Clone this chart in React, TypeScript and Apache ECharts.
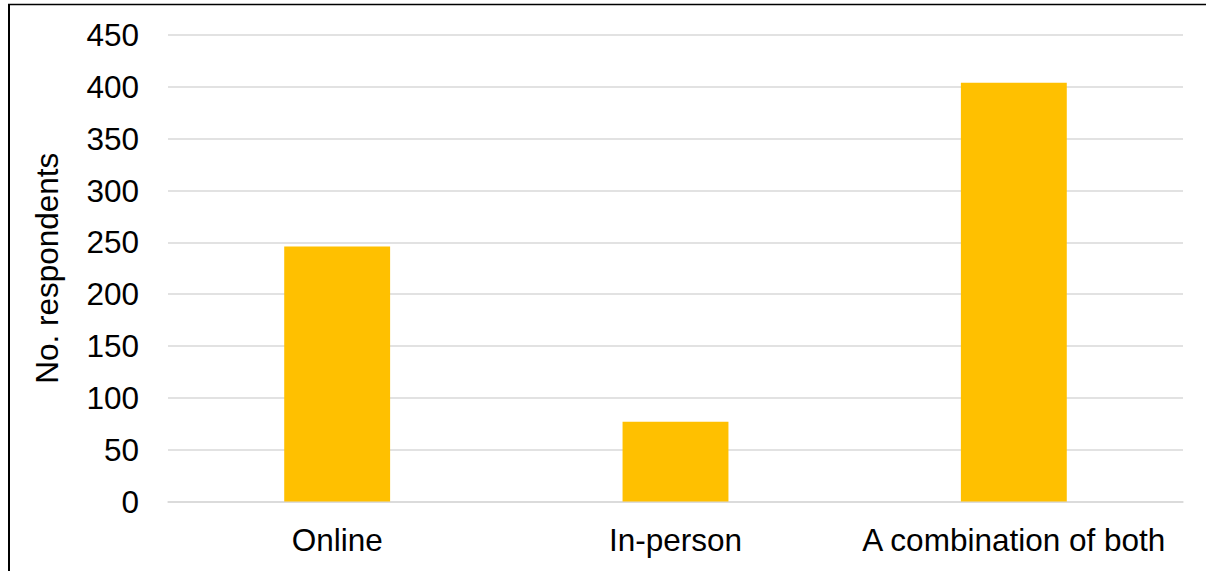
import React, { useEffect, useRef } from "react";
import * as echarts from "echarts";

const categories = ["Online", "In-person", "A combination of both"];
const respondents = [246, 77, 404];
const yTicks = { min: 0, max: 450, interval: 50 };
const yAxisTitle = "No. respondents";

const FONT = "'Liberation Sans', Arial, sans-serif";

export default function App() {
  const ref = useRef<HTMLDivElement>(null);
  useEffect(() => {
    if (!ref.current) return;
    const chart = echarts.init(ref.current, undefined, { renderer: "svg" });
    chart.setOption({
      animation: false,
      backgroundColor: "#ffffff",
      grid: { left: 168, right: 23, top: 35, bottom: 69.5, containLabel: false },
      xAxis: {
        type: "category",
        data: categories,
        axisLine: { show: true, lineStyle: { color: "#d9d9d9", width: 1.5 } },
        axisTick: { show: false },
        axisLabel: { color: "#000", fontSize: 31.5, fontFamily: FONT, margin: 22, interval: 0 },
      },
      yAxis: {
        type: "value",
        min: yTicks.min,
        max: yTicks.max,
        interval: yTicks.interval,
        name: yAxisTitle,
        nameLocation: "middle",
        nameGap: 105,
        nameRotate: 90,
        nameTextStyle: { color: "#000", fontSize: 31.5, fontFamily: FONT },
        axisLine: { show: false },
        axisTick: { show: false },
        splitLine: { show: true, lineStyle: { color: "#d9d9d9", width: 1.5 } },
        axisLabel: { color: "#000", fontSize: 31.5, fontFamily: FONT, margin: 29 },
      },
      series: [
        {
          type: "bar",
          data: respondents,
          barWidth: "31.3%",
          itemStyle: { color: "#FFC000" },
        },
      ],
      graphic: [
        {
          type: "line",
          shape: { x1: 9, y1: 4, x2: 9, y2: 600 },
          style: { stroke: "#000", lineWidth: 2 },
          z: 100,
        },
        {
          type: "line",
          shape: { x1: 8, y1: 4.5, x2: 1300, y2: 4.5 },
          style: { stroke: "#000", lineWidth: 1.5 },
          z: 100,
        },
      ],
    });
    return () => chart.dispose();
  }, []);
  return (
    <div
      ref={ref}
      style={{ position: "absolute", left: 0, top: 0, width: 1206, height: 571 }}
    />
  );
}
